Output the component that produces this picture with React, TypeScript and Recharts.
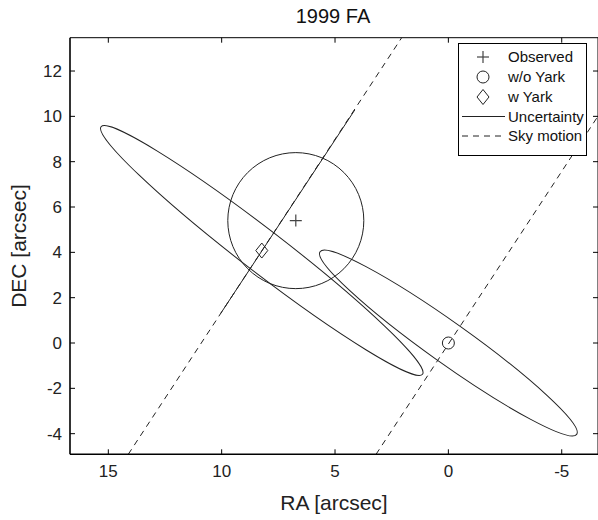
import React from 'react';
import * as RC from 'recharts';
import { ScatterChart, Scatter, XAxis, YAxis, ReferenceLine, Customized } from 'recharts';

const FONT = '"Liberation Sans", Arial, Helvetica, sans-serif';
const INK = '#222';

// axes (RA is plotted east-left, so the axis is reversed)
const RA_DOMAIN = [-6.6, 16.69];
const DEC_DOMAIN = [-4.91, 13.47];
const RA_TICKS = [-5, 0, 5, 10, 15];
const DEC_TICKS = [-4, -2, 0, 2, 4, 6, 8, 10, 12];

// point positions [arcsec]
const OBSERVED = [{ ra: 6.73, dec: 5.4 }];
const WO_YARK = [{ ra: 0, dec: 0 }];
const W_YARK = [{ ra: 8.23, dec: 4.08 }];

// sky motion lines (dashed) and uncertainty segment (solid)
const SKY_A_RA = [14.12, 2.06];
const SKY_A_DEC = [-4.91, 13.47];
const SKY_B_RA = [3.19, -6.6];
const SKY_B_DEC = [-4.91, 10.01];
const UNC_RA = [10.04, 4.13];
const UNC_DEC = [1.31, 10.28];

// uncertainty ellipses: observed circle, w/o Yark, w Yark
const ELL_CENTER_RA = [6.73, 0, 8.23];
const ELL_CENTER_DEC = [5.4, 0, 4.08];
const ELL_TIP_RA = [9.73, 5.66, 15.32];
const ELL_TIP_DEC = [5.4, 4.03, 9.54];
const ELL_MINOR = [3.0, 0.9, 0.94];

const LEGEND_ITEMS = ['Observed', 'w/o Yark', 'w Yark', 'Uncertainty', 'Sky motion'];

const usePlotBox = () => {
  const hook = (RC as any).usePlotArea;
  const area = hook ? hook() : undefined;
  return area ?? { x: 70, y: 37.7, width: 528, height: 416.6 };
};

const useScales = () => {
  const area = usePlotBox();
  const sx = (ra: number) => area.x + ((RA_DOMAIN[1] - ra) / (RA_DOMAIN[1] - RA_DOMAIN[0])) * area.width;
  const sy = (dec: number) => area.y + ((DEC_DOMAIN[1] - dec) / (DEC_DOMAIN[1] - DEC_DOMAIN[0])) * area.height;
  return { area, sx, sy };
};

const Ellipses = () => {
  const { sx, sy } = useScales();
  return (
    <g>
      {ELL_CENTER_RA.map((ra, i) => {
        const cx = sx(ra);
        const cy = sy(ELL_CENTER_DEC[i]);
        const tx = sx(ELL_TIP_RA[i]);
        const ty = sy(ELL_TIP_DEC[i]);
        const rx = Math.hypot(tx - cx, ty - cy);
        const ry = Math.abs(sx(ra + ELL_MINOR[i]) - cx);
        const angle = (Math.atan2(ty - cy, tx - cx) * 180) / Math.PI;
        return (
          <ellipse
            key={i}
            cx={cx}
            cy={cy}
            rx={rx}
            ry={ry}
            transform={`rotate(${angle} ${cx} ${cy})`}
            fill="none"
            stroke={INK}
            strokeWidth={1}
          />
        );
      })}
    </g>
  );
};

// box on all four sides with inward ticks, as MATLAB draws it
const Frame = () => {
  const { area, sx, sy } = useScales();
  const left = area.x;
  const right = area.x + area.width;
  const top = area.y;
  const bottom = area.y + area.height;
  return (
    <g stroke="#000" fill="none">
      <line x1={left} y1={top} x2={right} y2={top} strokeWidth={1} />
      <line x1={right} y1={top} x2={right} y2={bottom} strokeWidth={1} />
      {RA_TICKS.map((t) => (
        <g key={`x${t}`}>
          <line x1={sx(t)} y1={bottom} x2={sx(t)} y2={bottom - 5} />
          <line x1={sx(t)} y1={top} x2={sx(t)} y2={top + 5} />
        </g>
      ))}
      {DEC_TICKS.map((t) => (
        <g key={`y${t}`}>
          <line x1={left} y1={sy(t)} x2={left + 5} y2={sy(t)} />
          <line x1={right} y1={sy(t)} x2={right - 5} y2={sy(t)} />
        </g>
      ))}
    </g>
  );
};

const Plus = ({ cx, cy }: any) => (
  <g stroke="#444" strokeWidth={1.2}>
    <line x1={cx - 6} y1={cy} x2={cx + 6} y2={cy} />
    <line x1={cx} y1={cy - 6} x2={cx} y2={cy + 6} />
  </g>
);

const Ring = ({ cx, cy }: any) => <circle cx={cx} cy={cy} r={6} fill="none" stroke={INK} strokeWidth={1} />;

const Diamond = ({ cx, cy }: any) => (
  <path d={`M${cx},${cy - 7.5} L${cx + 6},${cy} L${cx},${cy + 7.5} L${cx - 6},${cy} Z`} fill="none" stroke={INK} strokeWidth={1} />
);

const Titles = () => (
  <g fontFamily={FONT}>
    <text x={333} y={23} textAnchor="middle" fontSize={20} fill="#111">1999 FA</text>
    <text x={334} y={510} textAnchor="middle" fontSize={21} fill={INK}>RA [arcsec]</text>
    <text x={26} y={246} textAnchor="middle" fontSize={21} fill={INK} transform="rotate(-90 26 246)">DEC [arcsec]</text>
  </g>
);

const LegendBox = () => {
  const rowY = [57, 77, 97, 116.5, 136];
  return (
    <svg width={598} height={520} style={{ position: 'absolute', left: 0, top: 0, pointerEvents: 'none' }}>
      <g fontFamily={FONT}>
        <rect x={458.5} y={43.5} width={128} height={112} fill="#fff" stroke="#000" strokeWidth={1} />
        <Plus cx={483} cy={rowY[0]} />
        <Ring cx={483} cy={rowY[1]} />
        <Diamond cx={483} cy={rowY[2]} />
        <line x1={462} y1={rowY[3]} x2={505} y2={rowY[3]} stroke={INK} strokeWidth={1} />
        <line x1={462} y1={rowY[4]} x2={505} y2={rowY[4]} stroke={INK} strokeWidth={1} strokeDasharray="6 5" />
        {LEGEND_ITEMS.map((name, i) => (
          <text key={name} x={508} y={rowY[i]} dy="0.35em" fontSize={15} fill="#111">{name}</text>
        ))}
      </g>
    </svg>
  );
};

const tickStyle = { fontSize: 17, fill: INK, fontFamily: FONT };

export default function App() {
  return (
    <div style={{ position: 'absolute', left: 0, top: 0, width: 598, height: 520, background: '#fff' }}>
      <ScatterChart width={598} height={520} margin={{ top: 37.7, right: 0, bottom: 0, left: 0 }}>
        <XAxis
          type="number"
          dataKey="ra"
          domain={RA_DOMAIN}
          ticks={RA_TICKS}
          reversed
          allowDataOverflow
          height={65.7}
          tickSize={-5}
          tickMargin={16}
          axisLine={{ stroke: '#000', strokeWidth: 1.6 }}
          tickLine={false}
          tick={tickStyle}
        />
        <YAxis
          type="number"
          dataKey="dec"
          domain={DEC_DOMAIN}
          ticks={DEC_TICKS}
          allowDataOverflow
          width={70}
          tickSize={-5}
          tickMargin={13}
          axisLine={{ stroke: '#000', strokeWidth: 1.6 }}
          tickLine={false}
          tick={tickStyle}
        />
        <ReferenceLine
          segment={[{ x: SKY_A_RA[0], y: SKY_A_DEC[0] }, { x: SKY_A_RA[1], y: SKY_A_DEC[1] }]}
          stroke={INK}
          strokeDasharray="6 5"
          ifOverflow="visible"
        />
        <ReferenceLine
          segment={[{ x: SKY_B_RA[0], y: SKY_B_DEC[0] }, { x: SKY_B_RA[1], y: SKY_B_DEC[1] }]}
          stroke={INK}
          strokeDasharray="6 5"
          ifOverflow="visible"
        />
        <ReferenceLine
          segment={[{ x: UNC_RA[0], y: UNC_DEC[0] }, { x: UNC_RA[1], y: UNC_DEC[1] }]}
          stroke={INK}
          ifOverflow="visible"
        />
        <Customized component={<Ellipses />} />
        <Customized component={<Frame />} />
        <Scatter data={OBSERVED} shape={<Plus />} isAnimationActive={false} />
        <Scatter data={WO_YARK} shape={<Ring />} isAnimationActive={false} />
        <Scatter data={W_YARK} shape={<Diamond />} isAnimationActive={false} />
        <Customized component={<Titles />} />
      </ScatterChart>
      <LegendBox />
    </div>
  );
}
